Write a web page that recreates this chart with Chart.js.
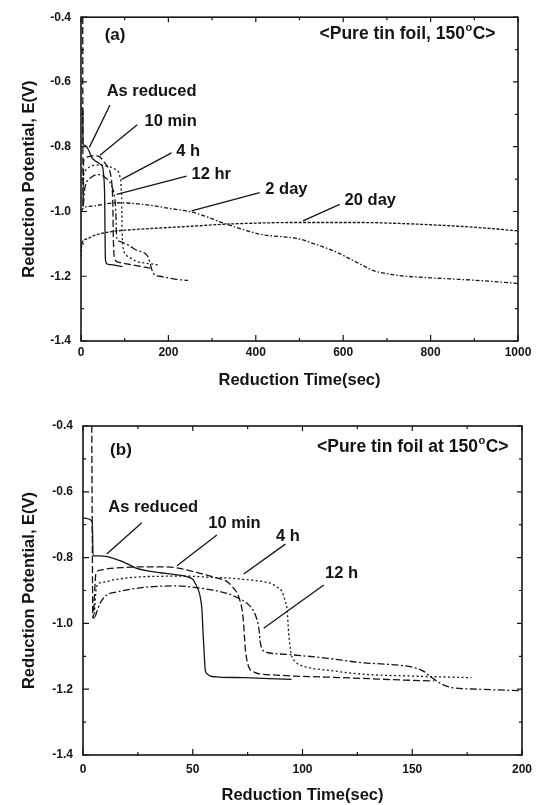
<!DOCTYPE html>
<html><head><meta charset="utf-8">
<script src="https://cdn.jsdelivr.net/npm/chart.js@4/dist/chart.umd.min.js"></script>
<style>
html,body{margin:0;padding:0;background:#fff;}
#wrap{position:relative;width:545px;height:805px;overflow:hidden;}
canvas{position:absolute;left:0;}
</style></head><body>
<div id="wrap">
<canvas id="ca" width="545" height="400" style="top:0px"></canvas>
<canvas id="cb" width="545" height="405" style="top:400px"></canvas>
</div>
<script>
// ---------- data ----------
const asReducedT = [0.3, 4.2, 4.6, 8, 13.8, 19, 24.5, 30, 35.2, 41, 47.4, 50, 51.1, 52.5, 53.4, 54.2, 54.7, 55.2, 55.7, 56.5, 58, 62, 73.2, 85, 95];
const asReducedE = [-0.68, -0.69, -0.795, -0.795, -0.802, -0.815, -0.833, -0.841, -0.846, -0.851, -0.858, -0.866, -0.878, -0.897, -0.919, -0.96, -1.03, -1.09, -1.142, -1.153, -1.16, -1.163, -1.165, -1.168, -1.17];

const tenMinT = [4.0, 4.2, 4.5, 5.9, 8, 12.3, 20, 26, 33, 41.2, 47, 53.4, 60, 65.6, 68.5, 70.9, 72.9, 74, 75.5, 78, 80.8, 88, 96, 110, 126.5, 145, 160];
const tenMinE = [-0.4, -0.7, -0.985, -0.848, -0.838, -0.833, -0.83, -0.828, -0.828, -0.83, -0.837, -0.848, -0.86, -0.873, -0.892, -0.919, -0.98, -1.081, -1.132, -1.148, -1.154, -1.157, -1.16, -1.163, -1.167, -1.172, -1.175];

const fourHT = [5, 6.2, 9, 13.8, 20, 27.5, 35, 42.8, 50, 58, 66, 73.2, 80, 85.4, 88.5, 90.7, 92, 93, 93.7, 94.8, 96.5, 99.1, 104, 111.3, 126.5, 150, 177];
const fourHE = [-0.985, -0.888, -0.875, -0.868, -0.862, -0.858, -0.857, -0.856, -0.857, -0.86, -0.862, -0.866, -0.871, -0.878, -0.89, -0.904, -0.93, -0.959, -1.03, -1.091, -1.115, -1.127, -1.136, -1.142, -1.154, -1.16, -1.165];

const twelveHT = [5.5, 7.8, 10.8, 15, 20, 26, 32.1, 42.8, 53.4, 60, 65.6, 70.5, 74.7, 77.5, 79.3, 80.2, 80.8, 83.1, 88, 96, 111.3, 126.5, 140, 150, 155, 159, 163, 168, 180, 200, 220, 245];
const twelveHE = [-0.98, -0.939, -0.914, -0.905, -0.898, -0.892, -0.888, -0.886, -0.893, -0.9, -0.909, -0.922, -0.939, -0.96, -0.99, -1.02, -1.06, -1.086, -1.092, -1.096, -1.106, -1.119, -1.125, -1.133, -1.145, -1.165, -1.183, -1.195, -1.2, -1.205, -1.21, -1.213];

const twoDayT = [1, 5, 28, 81, 142, 200, 257, 333, 409, 500, 523, 577, 638, 668, 700, 729, 800, 843, 920, 1000];
const twoDayE = [-1.0, -0.99, -0.983, -0.973, -0.978, -0.99, -1.003, -1.039, -1.07, -1.085, -1.095, -1.121, -1.162, -1.182, -1.192, -1.198, -1.205, -1.208, -1.214, -1.222];

const twentyDayT = [0.5, 1.5, 13, 28, 66, 120, 180, 260, 333, 400, 485, 560, 638, 729, 800, 882, 950, 1000];
const twentyDayE = [-1.14, -1.1, -1.085, -1.075, -1.063, -1.056, -1.051, -1.045, -1.039, -1.036, -1.034, -1.034, -1.034, -1.037, -1.041, -1.047, -1.054, -1.06];

// tick values / labels
const yTickValues = [-1.4, -1.2, -1.0, -0.8, -0.6, -0.4];
const xTickValuesA = [0, 200, 400, 600, 800, 1000];
const xTickValuesB = [0, 50, 100, 150, 200];

// series labels
const labelsA = ['As reduced', '10 min', '4 h', '12 hr', '2 day', '20 day'];
const labelsB = ['As reduced', '10 min', '4 h', '12 h'];

// ---------- styling / layout ----------
const FONT = '"Liberation Sans", Arial, Helvetica, sans-serif';
const INK = '#141414';
const dashes = [[], [7, 3], [2, 2.5], [7, 2.5, 2, 2.5], [4, 2, 1.5, 2], [3, 1.5]];

function pts(t, e) { return t.map((v, i) => ({ x: v, y: e[i] })); }
function mids(arr) { const m = []; for (let i = 0; i < arr.length - 1; i++) m.push((arr[i] + arr[i + 1]) / 2); return m; }

// annotation placements (in data units of each panel)
const annA = {
  panel: { text: '(a)', x: 78, y: -0.455 },
  title: { pre: '<Pure tin foil, 150', post: 'C>', x: 746, y: -0.453 },
  notes: [
    { t: labelsA[0], x: 161.6, y: -0.630, l: [66.3, -0.671, 19, -0.802] },
    { t: labelsA[1], x: 205, y: -0.722, l: [128.7, -0.732, 43.4, -0.826] },
    { t: labelsA[2], x: 245, y: -0.814, l: [207.3, -0.819, 93, -0.901] },
    { t: labelsA[3], x: 298, y: -0.885, l: [241.6, -0.891, 81.6, -0.947] },
    { t: labelsA[4], x: 470, y: -0.931, l: [409, -0.942, 253, -0.998] },
    { t: labelsA[5], x: 662, y: -0.967, l: [592, -0.978, 508, -1.029] }
  ]
};
const annB = {
  panel: { text: '(b)', x: 17.3, y: -0.473 },
  title: { pre: '<Pure tin foil at 150', post: 'C>', x: 150, y: -0.463 },
  notes: [
    { t: labelsB[0], x: 32, y: -0.649, l: [26.8, -0.694, 10.8, -0.789] },
    { t: labelsB[1], x: 69, y: -0.695, l: [61, -0.731, 42.8, -0.825] },
    { t: labelsB[2], x: 93.4, y: -0.736, l: [92.2, -0.759, 73.2, -0.85] },
    { t: labelsB[3], x: 117.8, y: -0.848, l: [109.7, -0.883, 82.3, -1.015] }
  ]
};

function decorPlugin(ann, xMajor) {
  return {
    id: 'decor',
    afterDatasetsDraw(chart) {
      const ctx = chart.ctx, a = chart.chartArea, xs = chart.scales.x, ys = chart.scales.y;
      ctx.save();
      ctx.strokeStyle = INK; ctx.fillStyle = INK;
      // frame
      ctx.lineWidth = 1.6;
      ctx.strokeRect(a.left, a.top, a.right - a.left, a.bottom - a.top);
      // inward ticks
      ctx.lineWidth = 1.2;
      const xMinor = mids(xMajor), yMinor = mids(yTickValues);
      ctx.beginPath();
      xMajor.forEach(v => { const p = xs.getPixelForValue(v); ctx.moveTo(p, a.bottom); ctx.lineTo(p, a.bottom - 6); ctx.moveTo(p, a.top); ctx.lineTo(p, a.top + 5); });
      xMinor.forEach(v => { const p = xs.getPixelForValue(v); ctx.moveTo(p, a.bottom); ctx.lineTo(p, a.bottom - 3); ctx.moveTo(p, a.top); ctx.lineTo(p, a.top + 3); });
      yTickValues.forEach(v => { const p = ys.getPixelForValue(v); ctx.moveTo(a.left, p); ctx.lineTo(a.left + 6, p); ctx.moveTo(a.right, p); ctx.lineTo(a.right - 5, p); });
      yMinor.forEach(v => { const p = ys.getPixelForValue(v); ctx.moveTo(a.left, p); ctx.lineTo(a.left + 3, p); ctx.moveTo(a.right, p); ctx.lineTo(a.right - 3, p); });
      ctx.stroke();
      // leader lines
      ctx.lineWidth = 1.3;
      ctx.beginPath();
      ann.notes.forEach(n => {
        ctx.moveTo(xs.getPixelForValue(n.l[0]), ys.getPixelForValue(n.l[1]));
        ctx.lineTo(xs.getPixelForValue(n.l[2]), ys.getPixelForValue(n.l[3]));
      });
      ctx.stroke();
      // labels
      ctx.textAlign = 'center'; ctx.textBaseline = 'middle';
      ctx.font = 'bold 16.5px ' + FONT;
      ann.notes.forEach(n => ctx.fillText(n.t, xs.getPixelForValue(n.x), ys.getPixelForValue(n.y)));
      ctx.font = 'bold 17px ' + FONT;
      ctx.fillText(ann.panel.text, xs.getPixelForValue(ann.panel.x), ys.getPixelForValue(ann.panel.y));
      // title with superscript degree
      const big = 'bold 17.5px ' + FONT, small = 'bold 11px ' + FONT;
      ctx.font = big; const w1 = ctx.measureText(ann.title.pre).width, w3 = ctx.measureText(ann.title.post).width;
      ctx.font = small; const w2 = ctx.measureText('o').width;
      const cx = xs.getPixelForValue(ann.title.x), cy = ys.getPixelForValue(ann.title.y);
      let x0 = cx - (w1 + w2 + w3) / 2;
      ctx.textAlign = 'left';
      ctx.font = big; ctx.fillText(ann.title.pre, x0, cy);
      ctx.font = small; ctx.fillText('o', x0 + w1 + 0.5, cy - 6);
      ctx.font = big; ctx.fillText(ann.title.post, x0 + w1 + w2 + 1, cy);
      ctx.restore();
    }
  };
}

function makeChart(id, series, names, xMax, xTicks, ann, lay) {
  const datasets = series.map((s, i) => ({
    label: names[i],
    data: pts(s[0], s[1]),
    borderColor: INK,
    borderWidth: 1.3,
    borderDash: dashes[i],
    pointRadius: 0,
    fill: false,
    cubicInterpolationMode: 'monotone'
  }));
  return new Chart(document.getElementById(id), {
    type: 'line',
    data: { datasets },
    options: {
      responsive: false, animation: false, devicePixelRatio: 1,
      layout: { padding: { left: 0, right: lay.right, top: lay.top, bottom: 0 } },
      plugins: { legend: { display: false }, tooltip: { enabled: false } },
      scales: {
        x: {
          type: 'linear', min: 0, max: xMax,
          afterBuildTicks: sc => { sc.ticks = xTicks.map(v => ({ value: v })); },
          afterFit: sc => { sc.height = lay.xh; },
          grid: { display: false, drawTicks: false },
          border: { display: false },
          ticks: { color: INK, padding: lay.xpad, font: { family: FONT, size: 12, weight: 'bold' }, callback: v => String(v) },
          title: { display: true, text: 'Reduction Time(sec)', color: INK, font: { family: FONT, size: 16.5, weight: 'bold' }, padding: { top: 0, bottom: lay.xtb } }
        },
        y: {
          type: 'linear', min: -1.4, max: -0.4,
          afterBuildTicks: sc => { sc.ticks = yTickValues.map(v => ({ value: v })); },
          afterFit: sc => { sc.width = lay.yw; },
          grid: { display: false, drawTicks: false },
          border: { display: false },
          ticks: { color: INK, padding: 10, font: { family: FONT, size: 12, weight: 'bold' }, callback: v => v.toFixed(1) },
          title: { display: true, text: 'Reduction Potential, E(V)', color: INK, font: { family: FONT, size: 16.5, weight: 'bold' }, padding: { top: 20, bottom: 0 } }
        }
      }
    },
    plugins: [decorPlugin(ann, xTicks)]
  });
}

makeChart('ca',
  [[asReducedT, asReducedE], [tenMinT, tenMinE], [fourHT, fourHE], [twelveHT, twelveHE], [twoDayT, twoDayE], [twentyDayT, twentyDayE]],
  labelsA, 1000, xTickValuesA, annA,
  { right: 27, top: 15, xh: 59, yw: 81, xpad: 4, xtb: 10 });

makeChart('cb',
  [[asReducedT, asReducedE], [tenMinT, tenMinE], [fourHT, fourHE], [twelveHT, twelveHE]],
  labelsB, 200, xTickValuesB, annB,
  { right: 23, top: 26, xh: 50, yw: 83, xpad: 7, xtb: 0 });
</script>
</body></html>
